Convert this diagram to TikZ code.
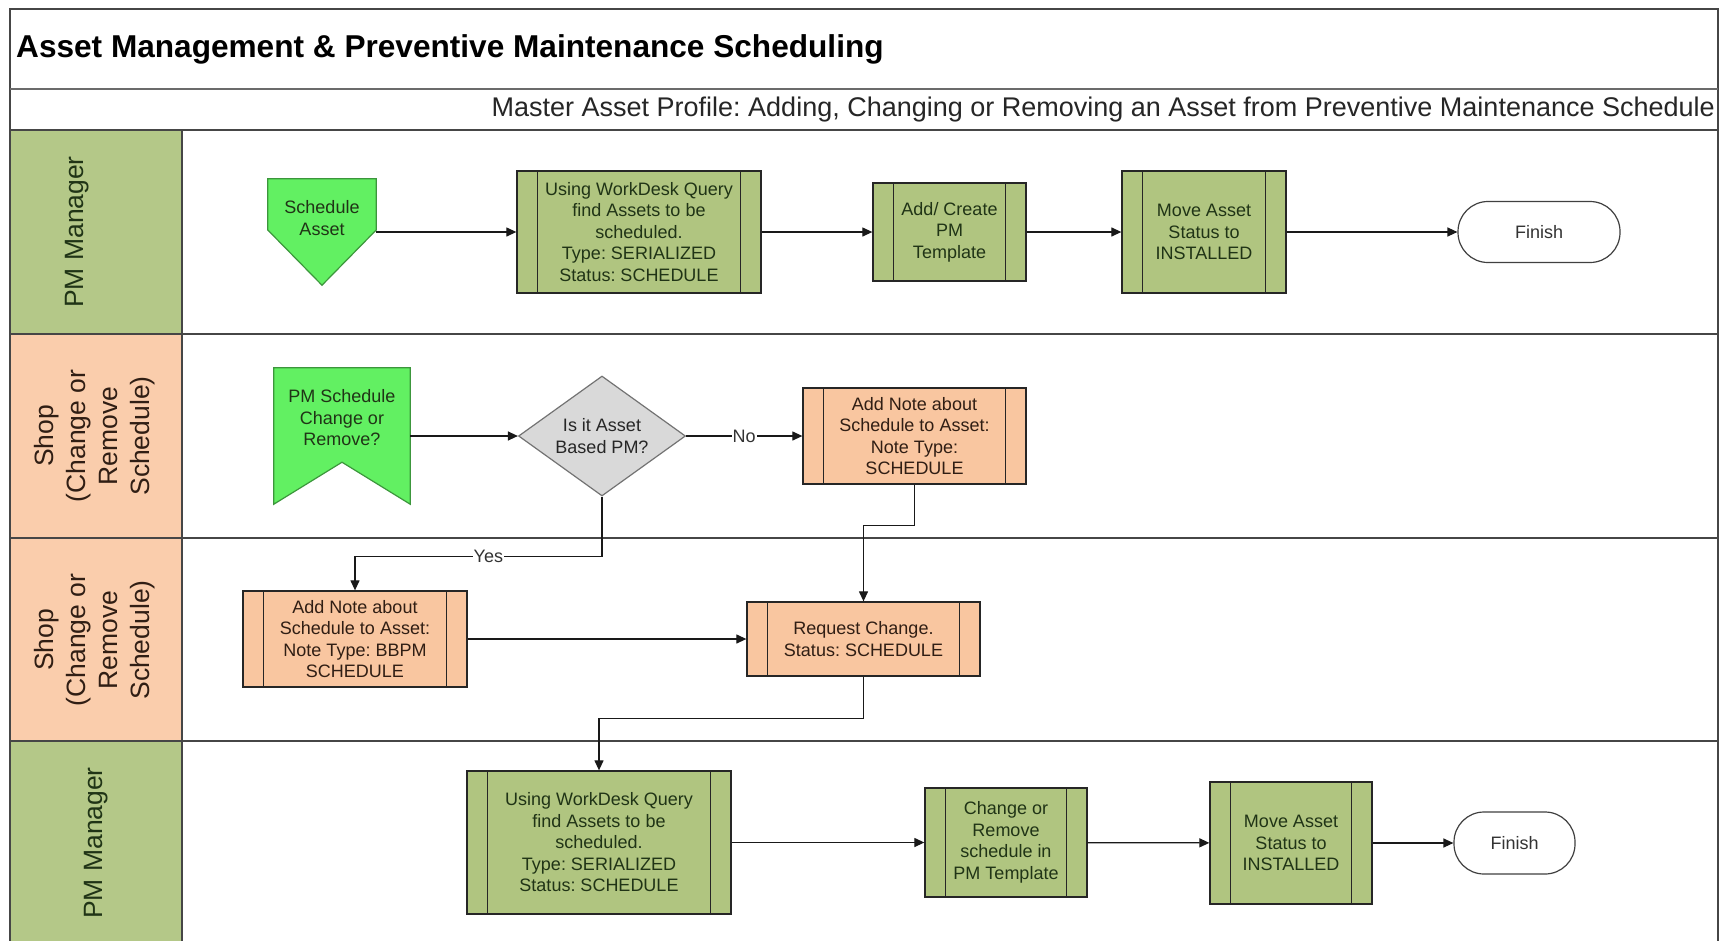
\documentclass[tikz,border=0pt]{standalone}
\usepackage{fontspec}
\setmainfont{Liberation Sans}
\usetikzlibrary{arrows.meta,calc,shapes.geometric}
\frenchspacing

\definecolor{laneGreen}{RGB}{180,200,136}
\definecolor{lanePeach}{RGB}{250,205,172}
\definecolor{boxGreen}{RGB}{176,197,128}
\definecolor{boxPeach}{RGB}{249,198,160}
\definecolor{brightGreen}{RGB}{98,240,98}
\definecolor{brightEdge}{RGB}{60,150,60}
\definecolor{decGray}{RGB}{217,217,217}
\definecolor{frameGray}{RGB}{70,70,70}
\definecolor{greenInk}{RGB}{32,52,22}
\definecolor{peachInk}{RGB}{48,30,20}

\tikzset{
  nodefont/.style={font=\fontsize{18}{21.5}\selectfont},
  lanefont/.style={font=\fontsize{26.5}{32}\selectfont},
  procbox/.style={draw=black!85, line width=1.3pt, inner sep=0pt, align=center, nodefont,
    path picture={
      \draw[line width=1.3pt, black!85]
        ([xshift=20.5pt]path picture bounding box.north west) -- ([xshift=20.5pt]path picture bounding box.south west)
        ([xshift=-20.5pt]path picture bounding box.north east) -- ([xshift=-20.5pt]path picture bounding box.south east);
    }},
  greenproc/.style={procbox, fill=boxGreen, text=greenInk},
  peachproc/.style={procbox, fill=boxPeach, text=peachInk},
  terminal/.style={draw=black!75, line width=1.2pt, fill=white, rounded corners=30pt,
    inner sep=0pt, nodefont, text=black!80},
  decision/.style={draw=black!55, line width=1.2pt, fill=decGray, shape=diamond, aspect=1.39,
    inner sep=0pt, align=center, nodefont, text=black!85},
  ghost/.style={inner sep=0pt, draw=none},
  startshape/.style={draw=brightEdge, line width=1.2pt, fill=brightGreen},
  flow/.style={line width=1.25pt, black!90, -{Triangle[length=10pt,width=9pt]}},
  lanehead/.style={draw=frameGray, line width=1.3pt},
  lanetext/.style={rotate=90, align=center, lanefont},
  edgelabel/.style={fill=white, inner sep=1pt, nodefont, text=black!80}
}

\begin{document}
\begin{tikzpicture}[x=1pt,y=-1pt]
\useasboundingbox (0,0) rectangle (1732,940);
\fill[white] (0,0) rectangle (1732,940);

% lane headers
\filldraw[lanehead, fill=laneGreen] (10,130) rectangle (182,334);
\filldraw[lanehead, fill=lanePeach] (10,334) rectangle (182,538);
\filldraw[lanehead, fill=lanePeach] (10,538) rectangle (182,741);
\filldraw[lanehead, fill=laneGreen] (10,741) rectangle (182,946);

% frame, title band and lane separators
\draw[frameGray, line width=1.3pt] (10,9) rectangle (1718,946);
\draw[frameGray!80, line width=2.4pt] (10,89) -- (1718,89);
\draw[frameGray, line width=1.3pt] (10,130) -- (1718,130);
\draw[frameGray, line width=1.3pt] (10,334) -- (1718,334);
\draw[frameGray, line width=1.3pt] (10,538) -- (1718,538);
\draw[frameGray, line width=1.3pt] (10,741) -- (1718,741);

% titles
\node[anchor=west, inner sep=0pt, font=\fontsize{31.6}{36}\selectfont\bfseries] (title) at (16,49)
  {Asset Management \& Preventive Maintenance Scheduling};
\node[anchor=east, inner sep=0pt, font=\fontsize{27}{32}\selectfont, text=black!85] (subtitle) at (1715,110)
  {Master Asset Profile: Adding, Changing or Removing an Asset from Preventive Maintenance Schedule};

% lane names
\node[lanetext, text=greenInk] (lane1) at (77,232) {PM Manager};
\node[lanetext, text=peachInk] (lane2) at (95,436) {Shop\\(Change or\\Remove\\Schedule)};
\node[lanetext, text=peachInk] (lane3) at (95,640) {Shop\\(Change or\\Remove\\Schedule)};
\node[lanetext, text=greenInk] (lane4) at (96,843) {PM Manager};

% ---- lane 1: scheduling an asset
\node[ghost, minimum width=108pt, minimum height=106pt] (sa) at (322,232) {};
\filldraw[startshape] (sa.north west) -- (sa.north east) -- ($(sa.east)+(0,-2)$)
  -- (sa.south) -- ($(sa.west)+(0,-2)$) -- cycle;
\node[align=center, nodefont, text=greenInk] (satext) at (322,218) {Schedule\\Asset};

\node[greenproc, minimum width=244pt, minimum height=122pt] (q1) at (639,232)
  {Using WorkDesk Query\\find Assets to be\\scheduled.\\Type: SERIALIZED\\Status: SCHEDULE};
\node[greenproc, minimum width=153pt, minimum height=98pt] (tpl) at (949.5,232)
  {Add/ Create\\PM\\Template};
\node[greenproc, minimum width=164pt, minimum height=122pt] (mv1) at (1204,232)
  {Move Asset\\Status to\\INSTALLED};
\node[terminal, minimum width=162pt, minimum height=61pt] (fin1) at (1539,232) {Finish};

\draw[flow] (sa.east) -- (q1.west);
\draw[flow] (q1) -- (tpl);
\draw[flow] (tpl) -- (mv1);
\draw[flow] (mv1) -- (fin1);

% ---- lane 2: change or removal request
\node[ghost, minimum width=136pt, minimum height=136pt] (pmc) at (342,436) {};
\filldraw[startshape] (pmc.north west) -- (pmc.north east) -- (pmc.south east)
  -- ($(pmc.south)+(0,-42)$) -- (pmc.south west) -- cycle;
\node[align=center, nodefont, text=greenInk] (pmctext) at (342,418) {PM Schedule\\Change or\\Remove?};

\node[decision, minimum width=167pt, minimum height=120pt] (dec) at (602,436) {Is it Asset\\Based PM?};
\node[peachproc, minimum width=223pt, minimum height=96pt] (ns) at (914.5,436)
  {Add Note about\\Schedule to Asset:\\Note Type:\\SCHEDULE};

\draw[flow] (pmc.east) -- (dec.west);
\draw[flow] (dec.east) -- node[edgelabel] {No} (ns.west);

% ---- lane 3: notes and change request
\node[peachproc, minimum width=224pt, minimum height=96pt] (bb) at (355,639)
  {Add Note about\\Schedule to Asset:\\Note Type: BBPM\\SCHEDULE};
\node[peachproc, minimum width=233pt, minimum height=74pt] (rq) at (863.5,639)
  {Request Change.\\Status: SCHEDULE};

\draw[flow] (dec.south) -- ++(0,60) -| node[edgelabel, pos=0.23] {Yes} (bb.north);
\draw[flow] (ns.south) -- ++(0,41) -| (rq.north);
\draw[flow] (bb.east) -- (rq.west);

% ---- lane 4: updating the template
\node[greenproc, minimum width=264pt, minimum height=143pt] (q2) at (599,842.5)
  {Using WorkDesk Query\\find Assets to be\\scheduled.\\Type: SERIALIZED\\Status: SCHEDULE};
\node[greenproc, minimum width=162pt, minimum height=109pt] (cr) at (1006,842.5)
  {Change or\\Remove\\schedule in\\PM Template};
\node[greenproc, minimum width=162pt, minimum height=122pt] (mv2) at (1291,843)
  {Move Asset\\Status to\\INSTALLED};
\node[terminal, minimum width=121pt, minimum height=62pt] (fin2) at (1514.5,843) {Finish};

\draw[flow] (rq.south) -- ++(0,42) -| (q2.north);
\draw[flow] (q2) -- (cr);
\draw[flow] (cr) -- (mv2);
\draw[flow] (mv2) -- (fin2);
\end{tikzpicture}
\end{document}
